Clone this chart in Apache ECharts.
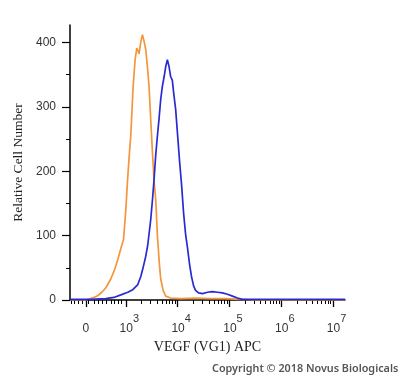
<!DOCTYPE html>
<html><head><meta charset="utf-8">
<script src="https://cdn.jsdelivr.net/npm/echarts@6/dist/echarts.min.js"></script>
<style>html,body{margin:0;padding:0;background:#fff}#c{width:400px;height:378px}</style>
</head><body><div id="c"></div>
<script>
// x values are positions on the logicle display scale (10^d sits at d)
const controlX = [1.923,2.231,2.308,2.385,2.462,2.538,2.615,2.712,2.788,2.846,2.904,2.956,3.0,3.033,3.067,3.096,3.140,3.179,3.212,3.235,3.256,3.288,3.321,3.352,3.385,3.417,3.448,3.481,3.510,3.544,3.577,3.610,3.644,3.673,3.721,3.769,3.865,4.058,4.346,4.635,4.923,5.212,5.5,7.23];
const controlY = [0,0,2,4,7,12,19,33,48,63,80,94,140,185,225,255,330,373,391,387,382,400,412,402,389,362,332,280,235,187,156,100,60,33,15,6,3,2,3,2,2,1,0,0];
const vegfX = [1.923,2.327,2.615,2.769,2.904,3.038,3.135,3.231,3.288,3.327,3.385,3.423,3.481,3.519,3.548,3.577,3.610,3.640,3.673,3.706,3.740,3.769,3.802,3.833,3.865,3.898,3.923,3.962,4.006,4.038,4.077,4.115,4.154,4.192,4.231,4.269,4.308,4.346,4.404,4.481,4.577,4.673,4.769,4.865,4.962,5.058,5.154,5.25,7.23];
const vegfY = [1,1,2,4,8,12,16,24,36,48,68,85,125,160,190,225,255,280,311,332,347,362,373,363,347,341,322,296,249,215,178,135,102,80,55,36,22,15,11,10,12,13,12,11,9,6,3,1,1];

const xMajorTicks = [2.231,3,4,5,6,7];
const xTickLabels = ['0','3','4','5','6','7'];
const xLinearMinorTicks = [1.942,2.0,2.077,2.154,2.269,2.385,2.462,2.538,2.615,2.712,2.769,2.846,2.904];
const decades = [3,4,5,6];
const yMajorTicks = [0,100,200,300,400];
const yMinorTicks = [50,150,250,350];

const xMinorTicks = xLinearMinorTicks.slice();
decades.forEach(d => { for (let k = 2; k <= 9; k++) xMinorTicks.push(d + Math.log10(k)); });

const X_MIN = 1.923, X_MAX = 7.23, Y_MIN = 0, Y_MAX = 427;
const labelFont = 'Liberation Sans';
const serif = 'Liberation Serif';
const hiddenLine = { show: true, lineStyle: { color: 'rgba(0,0,0,0)', width: 0 } };

const chart = echarts.init(document.getElementById('c'));
chart.setOption({
  animation: false,
  backgroundColor: '#fff',
  grid: { left: 70, right: 55, top: 25, bottom: 78 },
  xAxis: [
    {
      type: 'value', min: X_MIN, max: X_MAX, position: 'bottom',
      name: 'VEGF (VG1) APC', nameLocation: 'middle', nameGap: 40,
      nameTextStyle: { fontFamily: serif, fontSize: 14, color: '#222' },
      axisLine: { show: true, lineStyle: { color: '#000', width: 1.5 } },
      splitLine: { show: false },
      axisTick: { show: true, customValues: xMajorTicks, length: 7, lineStyle: { color: '#000', width: 1.3 } },
      axisLabel: {
        customValues: xMajorTicks, margin: 13, color: '#333',
        fontFamily: labelFont, fontSize: 12,
        formatter: function (v) {
          let idx = 0, best = 1e9;
          xMajorTicks.forEach((t, i) => { if (Math.abs(t - v) < best) { best = Math.abs(t - v); idx = i; } });
          const lab = xTickLabels[idx];
          if (lab === '0') return '{z|0}';
          return '{b|10}{s|' + lab + '}';
        },
        rich: {
          z: { fontFamily: labelFont, fontSize: 12, color: '#333', lineHeight: 22, verticalAlign: 'bottom', padding: [9, 0, 0, 0] },
          b: { fontFamily: labelFont, fontSize: 12, color: '#333', lineHeight: 22, verticalAlign: 'bottom', padding: [9, 0, 0, 7] },
          s: { fontFamily: labelFont, fontSize: 11, color: '#333', lineHeight: 22, verticalAlign: 'top', padding: [0, 0, 9, 0] }
        }
      }
    },
    {
      type: 'value', min: X_MIN, max: X_MAX, position: 'bottom', offset: 0,
      axisLine: hiddenLine, splitLine: { show: false },
      axisTick: { show: true, customValues: xMinorTicks, length: 4, lineStyle: { color: '#000', width: 1 } },
      axisLabel: { show: false }
    }
  ],
  yAxis: [
    {
      type: 'value', min: Y_MIN, max: Y_MAX, position: 'left',
      name: 'Relative Cell Number', nameLocation: 'middle', nameGap: 45,
      nameTextStyle: { fontFamily: serif, fontSize: 13.5, color: '#222' },
      axisLine: { show: true, lineStyle: { color: '#000', width: 1.5 } },
      splitLine: { show: false },
      axisTick: { show: true, customValues: yMajorTicks, length: 8, lineStyle: { color: '#000', width: 1.2 } },
      axisLabel: { customValues: yMajorTicks, margin: 14, color: '#333', fontFamily: labelFont, fontSize: 12 }
    },
    {
      type: 'value', min: Y_MIN, max: Y_MAX, position: 'left', offset: 0,
      axisLine: hiddenLine, splitLine: { show: false },
      axisTick: { show: true, customValues: yMinorTicks, length: 4, lineStyle: { color: '#000', width: 1 } },
      axisLabel: { show: false }
    }
  ],
  graphic: [
    { type: 'text', left: 212, top: 363, style: { text: 'Copyright © 2018 Novus Biologicals', fontFamily: 'Noto Sans', fontWeight: 600, fontSize: 10.8, fill: '#555' } }
  ],
  series: [
    {
      type: 'line', xAxisIndex: 0, yAxisIndex: 0, showSymbol: false, smooth: false,
      data: controlX.map((x, i) => [x, controlY[i]]),
      lineStyle: { color: '#F3963C', width: 1.7 }, itemStyle: { color: '#F3963C' }
    },
    {
      type: 'line', xAxisIndex: 0, yAxisIndex: 0, showSymbol: false, smooth: false,
      data: vegfX.map((x, i) => [x, vegfY[i]]),
      lineStyle: { color: '#2A2AD2', width: 1.7 }, itemStyle: { color: '#2A2AD2' }
    },
    { type: 'line', xAxisIndex: 1, yAxisIndex: 1, data: [], silent: true }
  ]
});
</script>
</body></html>
